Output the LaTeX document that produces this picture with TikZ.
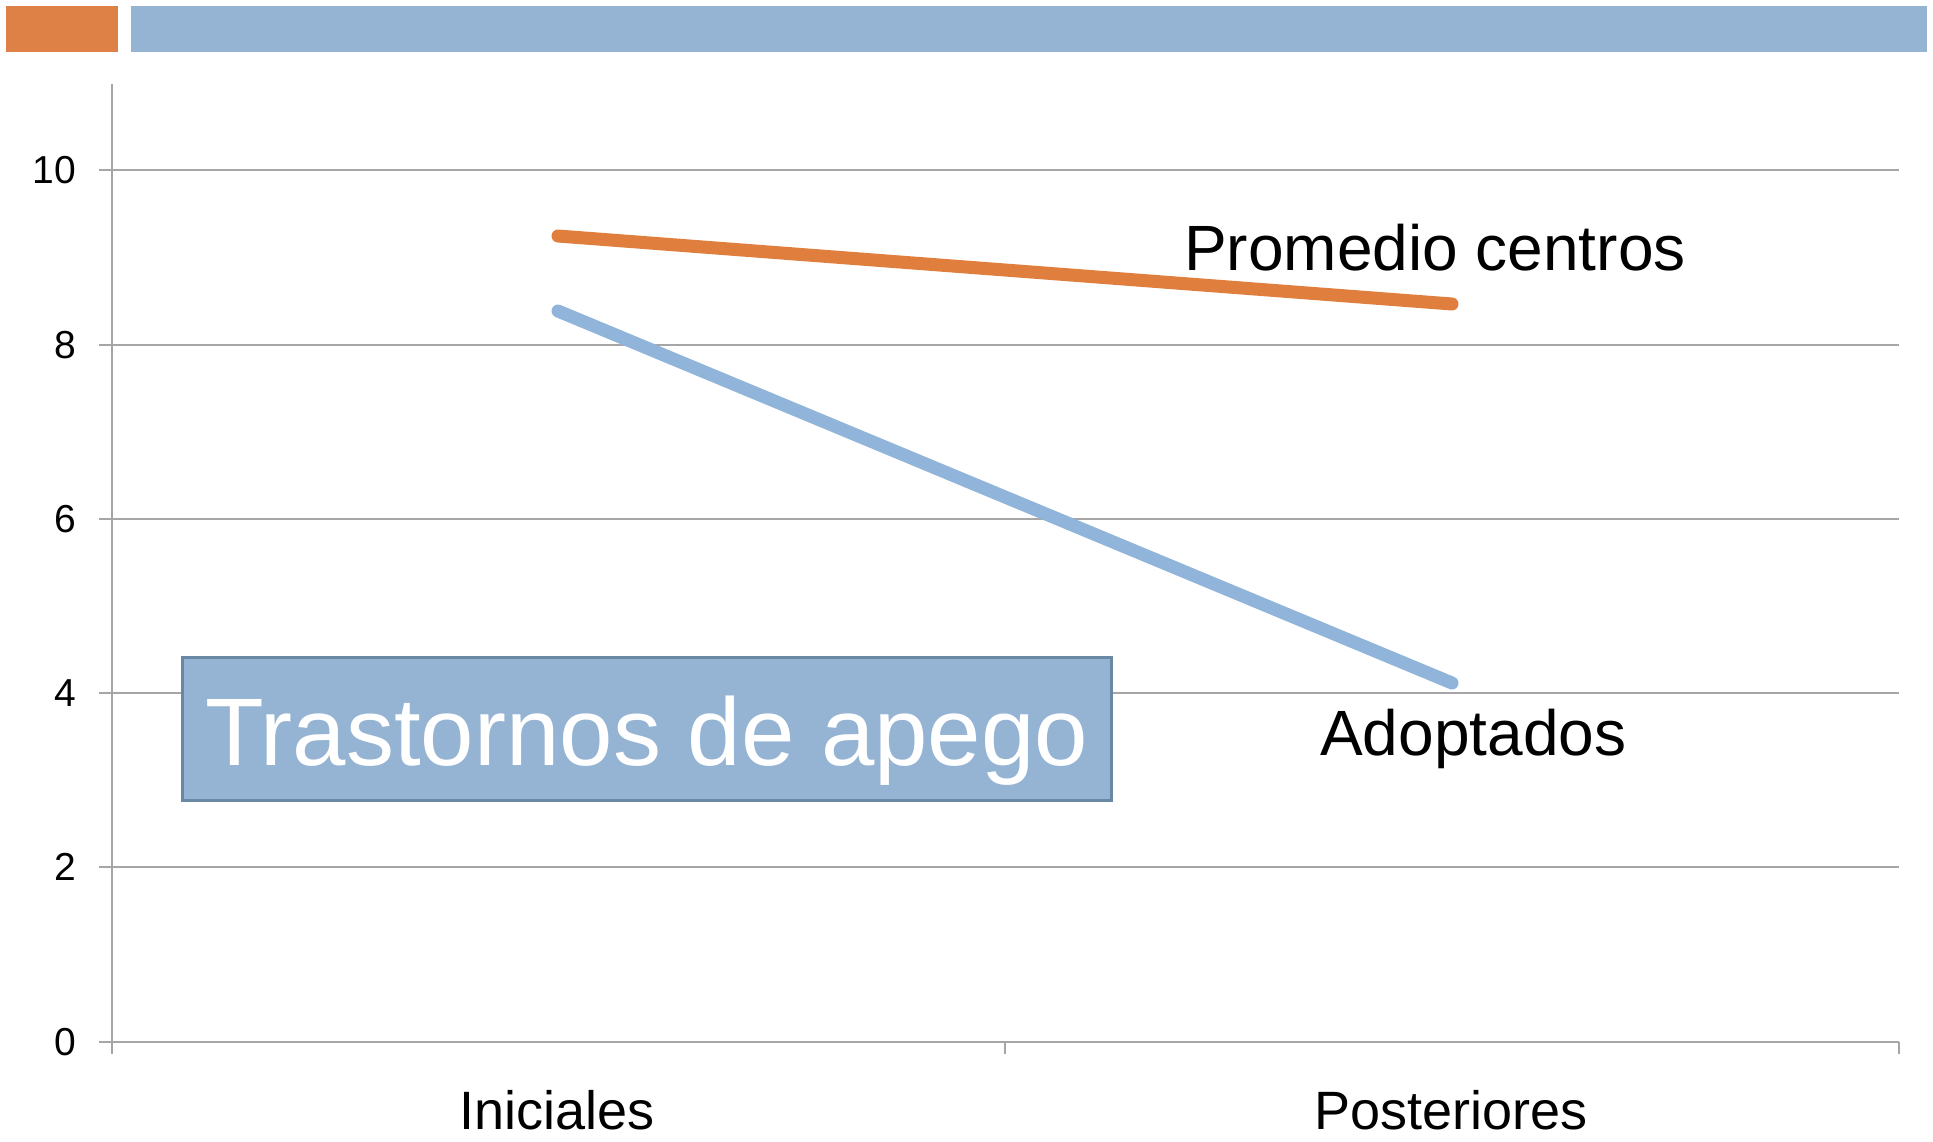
\documentclass[tikz,border=0pt]{standalone}
\usepackage{fontspec}
\setmainfont{Liberation Sans}
\definecolor{barorange}{HTML}{DE8146}
\definecolor{barblue}{HTML}{95B3D3}
\definecolor{lineorange}{HTML}{E07E3E}
\definecolor{lineblue}{HTML}{90B4DA}
\definecolor{boxedge}{HTML}{6A88A3}
\definecolor{gridgray}{HTML}{A6A6A6}
\tikzset{
  gridln/.style={draw=gridgray, line width=1.8pt},
  ticklbl/.style={anchor=east, inner sep=0pt, font=\fontsize{39}{39}\selectfont},
  catlbl/.style={anchor=base, inner sep=0pt, font=\fontsize{54}{54}\selectfont},
  serieslbl/.style={anchor=base west, inner sep=0pt, font=\fontsize{64}{64}\selectfont},
  seriesln/.style={line width=13pt, line cap=round},
}
\begin{document}
\begin{tikzpicture}[x=1pt,y=-1pt]
\useasboundingbox (0,0) rectangle (1933,1141);
\fill[white] (0,0) rectangle (1933,1141);
% top bars
\fill[barorange] (6,6) rectangle (118,52);
\fill[barblue] (131,6) rectangle (1927,52);
% gridlines
\foreach \v/\y in {10/170,8/345,6/519,4/693,2/867,0/1042}{
  \draw[gridln] (99,\y) -- (1899,\y);
  \node[ticklbl] at (76,\y) {\v};
}
% axes
\draw[gridln] (112,84) -- (112,1054);
\draw[gridln] (1005,1042) -- (1005,1054);
\draw[gridln] (1899,1042) -- (1899,1054);
% categories
\node[catlbl] (ini) at (557,1129) {Iniciales};
\node[catlbl] (pos) at (1451,1129) {Posteriores};
% series
\coordinate (o1) at (558,236);
\coordinate (o2) at (1452,304);
\coordinate (b1) at (558,311);
\coordinate (b2) at (1452,683);
\draw[seriesln, draw=lineorange] (o1) -- (o2);
\draw[seriesln, draw=lineblue] (b1) -- (b2);
\node[serieslbl] (prom) at (1184,270) {Promedio centros};
\node[serieslbl] (adop) at (1320,755) {Adoptados};
% title box
\node[draw=boxedge, line width=3pt, fill=barblue, text=white, inner sep=0pt,
      minimum width=929pt, minimum height=143pt, anchor=north west,
      text height=73pt, text depth=0pt,
      font=\fontsize{96}{96}\selectfont] (title) at (181,656) {Trastornos de apego};
\end{tikzpicture}
\end{document}
